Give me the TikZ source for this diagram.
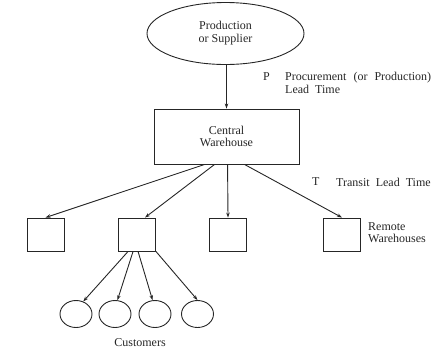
\documentclass[tikz,border=0pt]{standalone}
\usepackage{fontspec}
\setmainfont{Liberation Serif}
\usetikzlibrary{shapes.geometric,arrows.meta}
\begin{document}
\begin{tikzpicture}[x=1pt,y=-1pt,
  every node/.style={font=\fontsize{12}{12}\selectfont, text=black!85},
  line/.style={draw=black!85, line width=0.9pt},
  arr/.style={line, -{Stealth[length=5pt,width=3.5pt]}},
  whbox/.style={line, rectangle, minimum width=37pt, minimum height=33pt, inner sep=0pt},
  cust/.style={line, ellipse, minimum width=32pt, minimum height=27pt, inner sep=0pt},
  lbl/.style={anchor=west, inner sep=0pt, align=left}]
\useasboundingbox (0,0) rectangle (433,349);
\node[line, ellipse, minimum width=157pt, minimum height=62pt, inner sep=0pt, align=center] (sup) at (225.5,33.5) {Production\\[1pt]or Supplier};
\node[line, rectangle, minimum width=145pt, minimum height=55pt, inner sep=0pt, align=center] (cw) at (226.5,136.5) {Central\\[0pt]Warehouse};
\node[whbox] (w1) at (45.5,234.5) {};
\node[whbox] (w2) at (137,234.5) {};
\node[whbox] (w3) at (228,234.5) {};
\node[whbox] (w4) at (342,234.5) {};
\node[cust] (c1) at (76,314) {};
\node[cust] (c2) at (115,314) {};
\node[cust] (c3) at (155,314) {};
\node[cust] (c4) at (197.5,314) {};
\node[lbl] (p) at (263,77) {P};
\node[lbl] (pt) at (285,83) {Procurement\hspace{7pt}(or\hspace{7pt}Production)\\[1pt]Lead\hspace{6pt}Time};
\node[lbl] (t) at (312,182) {T};
\node[lbl] (tt) at (336,182) {Transit\ \ Lead\ \ Time};
\node[lbl] (rw) at (368,233) {Remote\\[0pt]Warehouses};
\node (cl) at (140,343) {Customers};
\draw[arr] (cw.north |- sup.south) -- (cw.north);
\draw[arr] ([xshift=51pt]cw.south west) -- (w1.north);
\draw[arr] ([xshift=61pt]cw.south west) -- ([xshift=8pt]w2.north);
\draw[arr] ([xshift=74pt]cw.south west) -- (w3.north);
\draw[arr] ([xshift=91pt]cw.south west) -- (w4.north);
\draw[arr] ([xshift=10pt]w2.south west) -- (c1.60);
\draw[arr] ([xshift=15pt]w2.south west) -- (c2.80);
\draw[arr] ([xshift=20pt]w2.south west) -- (c3.100);
\draw[arr] (w2.south east) -- (c4.north);
\end{tikzpicture}
\end{document}
